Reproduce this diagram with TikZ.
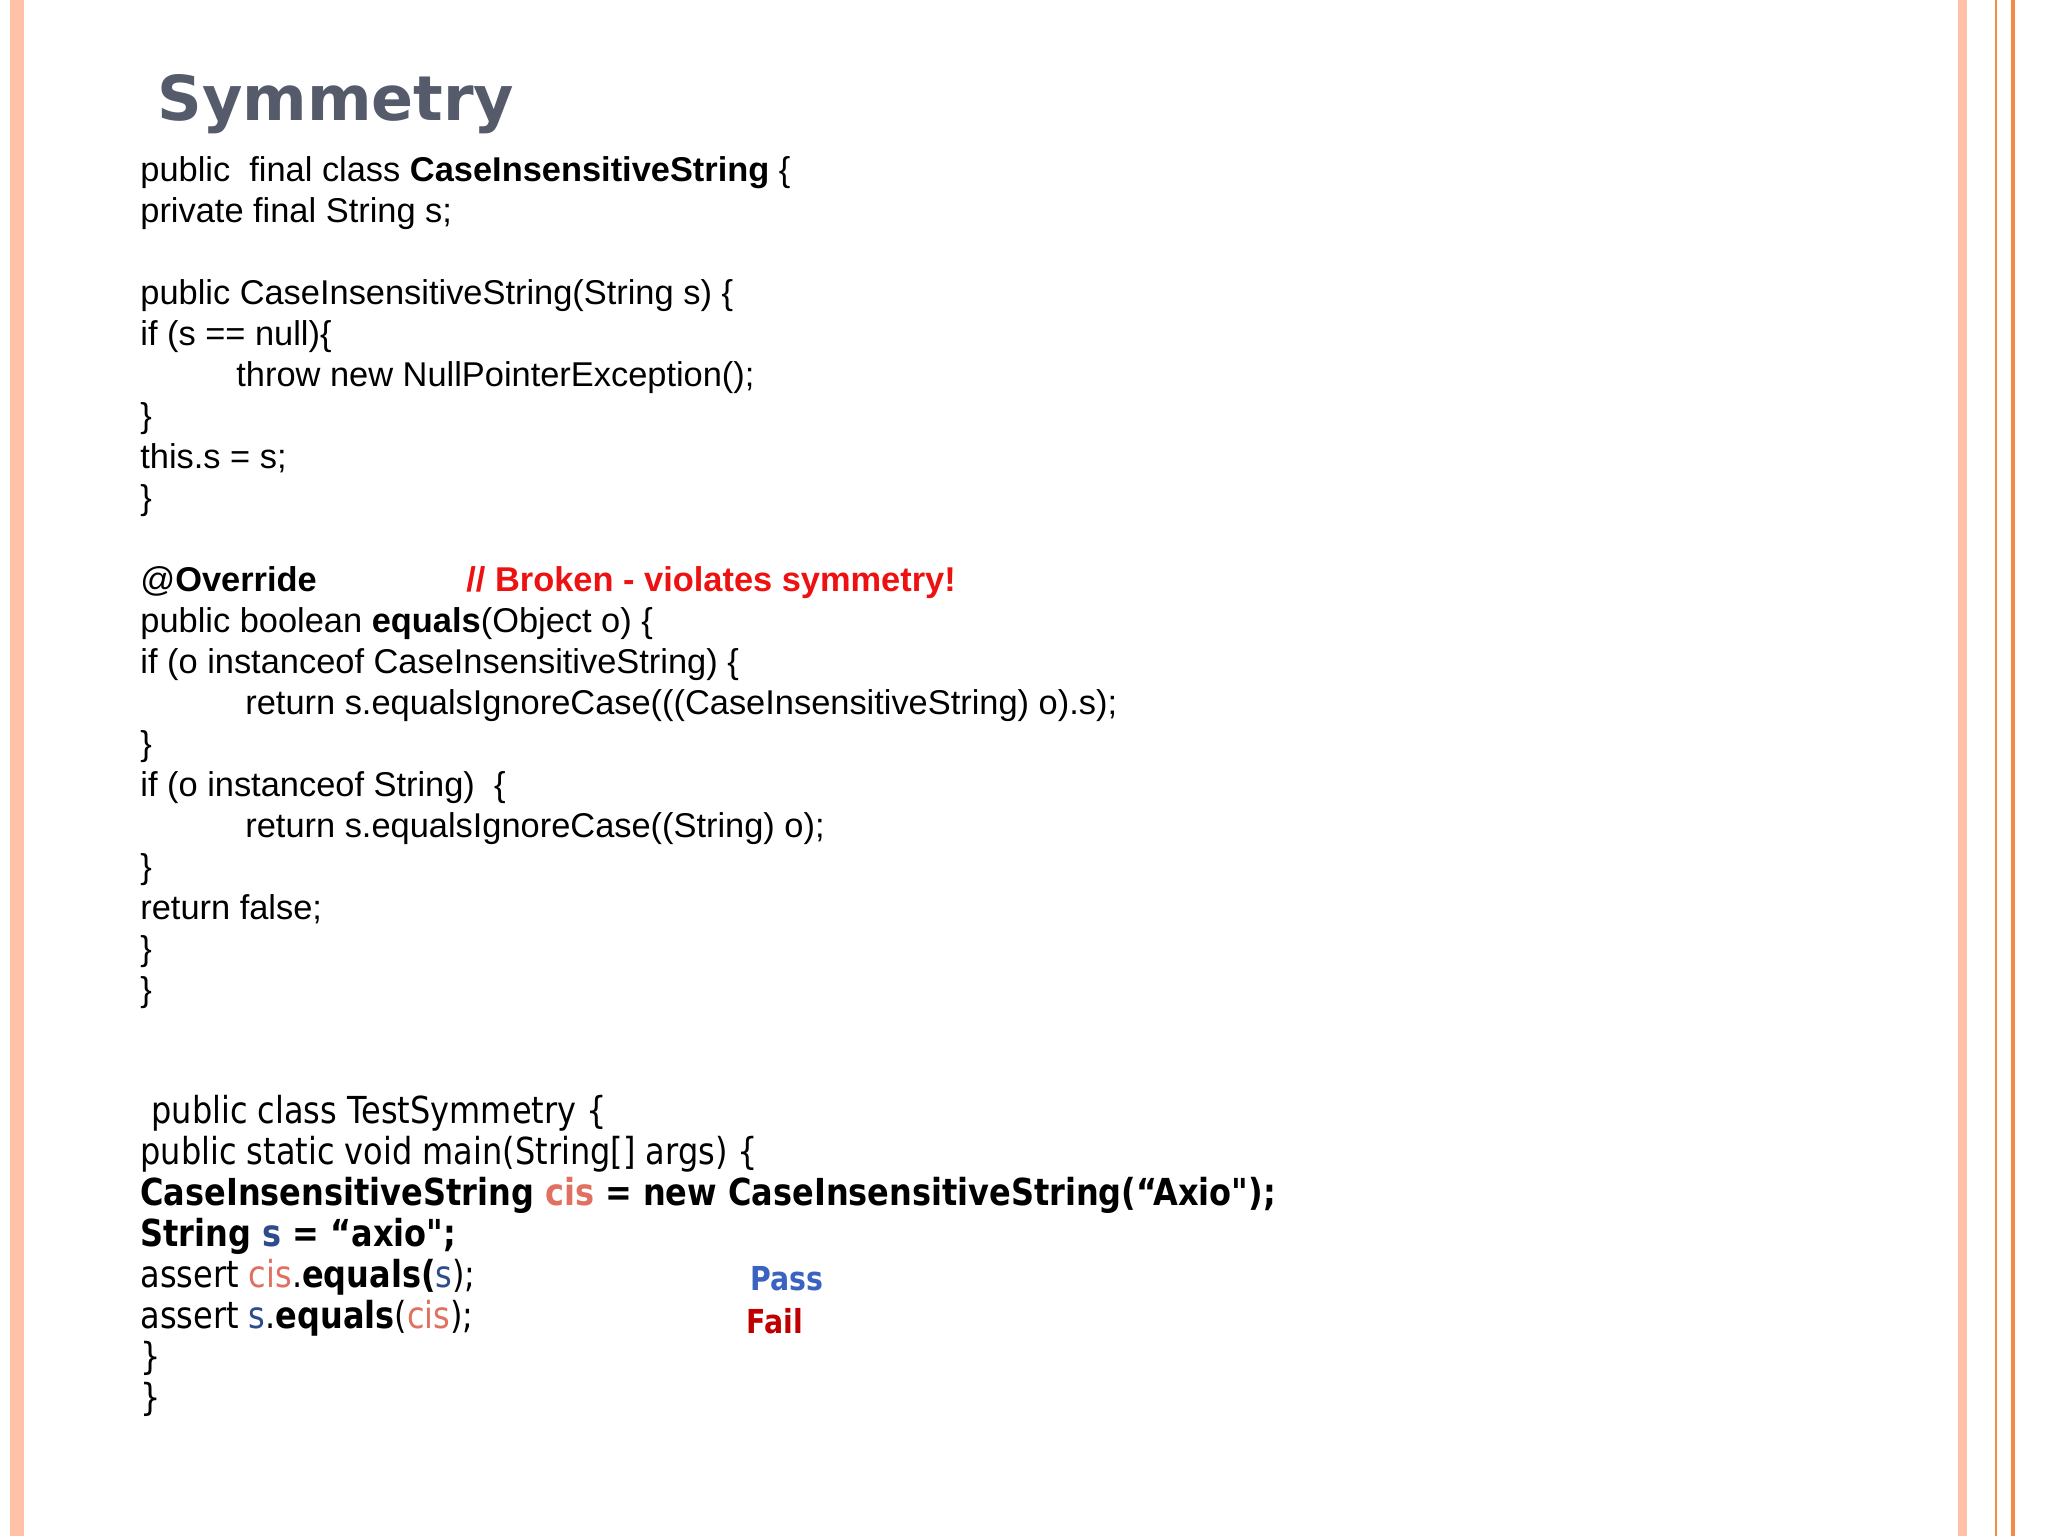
\documentclass[tikz,border=0pt]{standalone}
\usepackage{fontspec}
\setmainfont{Liberation Sans}
\newfontfamily\vfont[FakeStretch=0.86]{DejaVu Sans}
\newfontfamily\tfont{DejaVu Sans}
\definecolor{titlegray}{HTML}{555B6B}
\definecolor{brk}{HTML}{EE1111}
\definecolor{cisc}{HTML}{E07060}
\definecolor{sc}{HTML}{2E4C8C}
\definecolor{passc}{HTML}{3A62C0}
\definecolor{failc}{HTML}{C00000}
\definecolor{pinkb}{HTML}{FFC2A8}
\definecolor{orb}{HTML}{F58A45}
\begin{document}
\begin{tikzpicture}[x=0.5pt,y=-0.5pt,
  code/.style={anchor=base west,inner sep=0pt,font=\fontsize{17.2}{20}\selectfont},
  vcode/.style={anchor=base west,inner sep=0pt,font=\vfont\fontsize{18.6}{22}\selectfont}]
\useasboundingbox (0,0) rectangle (2048,1536);
\fill[white] (0,0) rectangle (2048,1536);
\fill[pinkb] (10,0) rectangle (24,1536);
\fill[pinkb] (1958,0) rectangle (1967,1536);
\fill[orb] (1995,0) rectangle (1997,1536);
\fill[orb] (2011,0) rectangle (2015,1536);
\node[anchor=base west,inner sep=0pt,text=titlegray,font=\tfont\bfseries\fontsize{31}{36}\selectfont] (title) at (157,120) {Symmetry};
\node[code] (a1) at (140,181) {public\ \ final class \textbf{CaseInsensitiveString} \{};
\node[code] (a2) at (140,222) {private final String s;};
\node[code] (a4) at (140,304) {public CaseInsensitiveString(String s) \{};
\node[code] (a5) at (140,345) {if (s == null)\{};
\node[code] (a6) at (236,386) {throw new NullPointerException();};
\node[code] (a7) at (140,427) {\}};
\node[code] (a8) at (140,468) {this.s = s;};
\node[code] (a9) at (140,509) {\}};
\node[code] (a11) at (140,591) {@\textbf{Override}};
\node[code,text=brk,font=\bfseries\fontsize{17.2}{20}\selectfont] (brk) at (466,591) {// Broken - violates symmetry!};
\node[code] (a12) at (140,632) {public boolean \textbf{equals}(Object o) \{};
\node[code] (a13) at (140,673) {if (o instanceof CaseInsensitiveString) \{};
\node[code] (a14) at (245,714) {return s.equalsIgnoreCase(((CaseInsensitiveString) o).s);};
\node[code] (a15) at (140,755) {\}};
\node[code] (a16) at (140,796) {if (o instanceof String)\ \ \{};
\node[code] (a17) at (245,837) {return s.equalsIgnoreCase((String) o);};
\node[code] (a18) at (140,878) {\}};
\node[code] (a19) at (140,919) {return false;};
\node[code] (a20) at (140,960) {\}};
\node[code] (a21) at (140,1001) {\}};
\node[vcode] (b1) at (151,1123) {public class TestSymmetry \{};
\node[vcode] (b2) at (140,1164) {public static void main(String[] args) \{};
\node[vcode,font=\vfont\bfseries\fontsize{18.6}{22}\selectfont] (b3) at (140,1205) {CaseInsensitiveString \textcolor{cisc}{cis} = new CaseInsensitiveString(“Axio");};
\node[vcode,font=\vfont\bfseries\fontsize{18.6}{22}\selectfont] (b4) at (140,1246) {String \textcolor{sc}{s} = “axio";};
\node[vcode] (b5) at (140,1287) {assert \textcolor{cisc}{cis}.\textbf{equals(}\textcolor{sc}{s});};
\node[vcode] (b6) at (140,1328) {assert \textcolor{sc}{s}.\textbf{equals}(\textcolor{cisc}{cis});};
\node[vcode] (b7) at (140,1369) {\}};
\node[vcode] (b8) at (140,1410) {\}};
\node[vcode,text=passc,font=\vfont\bfseries\fontsize{16.5}{20}\selectfont] (pass) at (750,1290) {Pass};
\node[vcode,text=failc,font=\vfont\bfseries\fontsize{16.5}{20}\selectfont] (fail) at (746,1333) {Fail};
\end{tikzpicture}
\end{document}
